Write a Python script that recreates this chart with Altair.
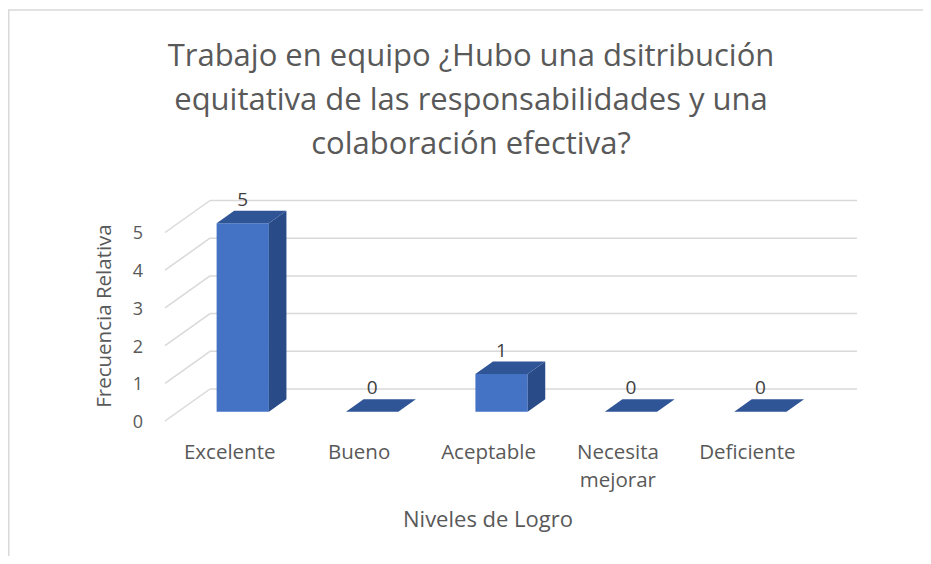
import altair as alt
import pandas as pd

# ---- data ----
categories = ["Excelente", "Bueno", "Aceptable", "Necesita\nmejorar", "Deficiente"]
values = [5, 0, 1, 0, 0]
y_ticks = [0, 1, 2, 3, 4, 5]
title_lines = ["Trabajo en equipo ¿Hubo una dsitribución",
               "equitativa de las responsabilidades y una",
               "colaboración efectiva?"]
x_title = "Niveles de Logro"
y_title = "Frecuencia Relativa"

# ---- layout / pseudo-3D projection ----
W, H = 915, 548
DXU = -45 / 129.4      # x shift (category units) from back wall to front of floor
DYV = -32 / 37.7       # y shift (value units) from back wall to front of floor
D_FRONT, D_BACK = 0.71, 0.32
HW = 0.202
TXT = "#595959"
FONT = "Open Sans"
C_FRONT, C_TOP, C_SIDE = "#4472C4", "#2F5597", "#294B88"

xs = alt.Scale(domain=[-1.5611, 5.5100], nice=False, zero=False)
ys = alt.Scale(domain=[-4.430, 10.106], nice=False, zero=False)

front, side, top, lab, cat = [], [], [], [], []
for i, (c, v) in enumerate(zip(categories, values)):
    u0, u1 = i + 0.5 - HW, i + 0.5 + HW
    front.append(dict(bar=c, x=u0 + DXU * D_FRONT, x2=u1 + DXU * D_FRONT,
                      y=v + DYV * D_FRONT, y2=DYV * D_FRONT))
    for d in (D_FRONT, D_BACK):
        side.append(dict(bar=c, x=u1 + DXU * d, y=v + DYV * d, y2=DYV * d))
        top.append(dict(bar=c, y=v + DYV * d, x=u0 + DXU * d, x2=u1 + DXU * d))
    lab.append(dict(bar=c, x=i + 0.5 + DXU * D_FRONT, y=v + DYV * D_BACK, t=str(v)))
    cat.append(dict(x=i + 0.5 + DXU, y=DYV, t=c))

grid_back = pd.DataFrame([dict(x=0, x2=5, y=k) for k in y_ticks])
grid_diag = pd.DataFrame([dict(x=0, x2=DXU, y=k, y2=k + DYV) for k in y_ticks])
ylab = pd.DataFrame([dict(x=DXU, y=k + DYV, t=str(k)) for k in y_ticks])

X = lambda f="x": alt.X(f"{f}:Q", scale=xs, axis=None)
Y = lambda f="y": alt.Y(f"{f}:Q", scale=ys, axis=None)

gb = alt.Chart(grid_back).mark_rule(color="#D9D9D9", strokeWidth=1.5).encode(
    x=X(), x2="x2:Q", y=Y())
gd = alt.Chart(grid_diag).mark_rule(color="#D9D9D9", strokeWidth=1.5).encode(
    x=X(), x2="x2:Q", y=Y(), y2="y2:Q")

fr = alt.Chart(pd.DataFrame(front)).mark_rect(color=C_FRONT).encode(
    x=X(), x2="x2:Q", y=Y(), y2="y2:Q")
sd = alt.Chart(pd.DataFrame(side)).mark_area(color=C_SIDE, opacity=1).encode(
    x=X(), y=alt.Y("y:Q", scale=ys, axis=None, stack=None), y2="y2:Q", detail="bar:N")
tp = alt.Chart(pd.DataFrame(top)).mark_area(color=C_TOP, opacity=1, orient="horizontal").encode(
    y=Y(), x=alt.X("x:Q", scale=xs, axis=None, stack=None), x2="x2:Q", detail="bar:N")

dl = alt.Chart(pd.DataFrame(lab)).mark_text(
    font=FONT, fontSize=19, color="#404040", baseline="middle", dy=-11).encode(
    x=X(), y=Y(), text="t:N")
yl = alt.Chart(ylab).mark_text(
    font=FONT, fontSize=18, color=TXT, align="right", baseline="middle", dx=-22, dy=2).encode(
    x=X(), y=Y(), text="t:N")
cl = alt.Chart(pd.DataFrame(cat)).mark_text(
    font=FONT, fontSize=20.5, color=TXT, align="center", baseline="top", dy=22,
    lineBreak="\n", lineHeight=28).encode(
    x=X(), y=Y(), text="t:N")

one = pd.DataFrame({"t": [0]})
xt = alt.Chart(one).mark_text(font=FONT, fontSize=22, color=TXT, baseline="middle",
                              text=x_title).encode(x=alt.value(480), y=alt.value(512))
yt = alt.Chart(one).mark_text(font=FONT, fontSize=20.5, color=TXT, baseline="middle",
                              angle=270, text=y_title).encode(x=alt.value(97), y=alt.value(308))
tt = alt.Chart(one).mark_text(font=FONT, fontSize=31, color=TXT,
                              baseline="alphabetic", lineHeight=44,
                              text=title_lines).encode(x=alt.value(463), y=alt.value(58))

bl = alt.Chart(one).mark_rule(color="#D9D9D9", strokeWidth=1.5).encode(
    x=alt.value(0.75), y=alt.value(2), y2=alt.value(H))
bt = alt.Chart(one).mark_rule(color="#D9D9D9", strokeWidth=1.5).encode(
    x=alt.value(0), x2=alt.value(W), y=alt.value(2))

chart = alt.layer(bl, bt, gb, gd, fr, sd, tp, dl, yl, cl, xt, yt, tt).properties(
    width=W, height=H, autosize=alt.AutoSizeParams(type="none"), padding=0,
    background="white"
).configure_view(stroke=None)

chart.save("out.html", embed_options={"renderer": "svg", "actions": False})
